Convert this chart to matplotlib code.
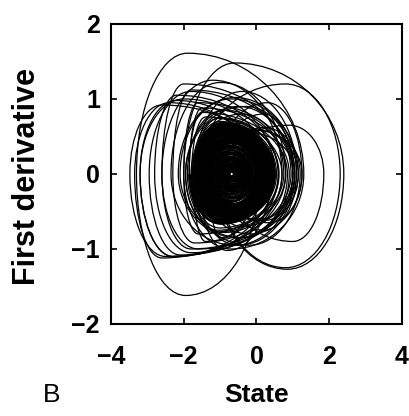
import matplotlib
matplotlib.use("Agg")
import matplotlib.pyplot as plt
from matplotlib.path import Path
from matplotlib.patches import PathPatch

plt.rcParams['font.family'] = ['Liberation Sans', 'DejaVu Sans']

# phase portrait, read loop by loop off the picture
# each loop: left turning point -> top -> right turning point -> bottom -> next left
left = [-1.45, -1.52, -1.60, -1.70, -1.85, -2.10, -2.60, -3.20, -3.30, -2.00,
        -1.10, -1.55, -1.62, -1.40, -1.35, -1.30, -1.38, -1.48, -1.58, -1.68,
        -1.80, -2.00, -2.35, -3.48, -1.75, -1.60, -1.50, -1.42, -1.36, -1.32,
        -1.40, -1.50, -1.58, -1.66, -1.78, -1.95, -1.70, -1.00, -0.90, -1.90,
        -1.72, -1.62, -1.52, -1.44, -1.36, -1.30, -1.34, -1.42, -1.53, -1.64,
        -1.76, -1.95, -2.30, -2.80, -3.20, -1.60, -1.05,
        -1.30, -1.20, -1.25,
        -1.60, -1.50, -1.42, -1.36, -1.42, -1.54, -1.68, -1.85, -2.15, -2.60,
        -2.95, -3.35,
        -1.30, -1.25, -1.20, -1.15, -1.11, -1.07, -1.03, -0.99, -0.95, -0.91,
        -0.86, -0.83, -0.78, -0.74,
        -0.84, -0.89, -0.94, -1.00, -1.06, -1.13, -1.21, -1.28,
        -1.36]
top_x = [-0.80, -0.85, -0.90, -1.00, -1.50, -0.60, -1.20, -2.20, -1.90, -0.60,
         0.30, -0.80, -0.90, -0.75, -0.70, -0.68, -0.72, -0.78, -0.88, -0.95,
         -0.40, -1.60, -1.00, -2.60, -1.00, -0.88, -0.82, -0.76, -0.70, -0.70,
         -0.74, -0.80, -0.86, -0.92, -1.40, -0.30, -0.40, 0.90, 0.20, -0.90,
         -1.00, -0.90, -0.82, -0.76, -0.72, -0.66, -0.70, -0.75, -0.83, -0.92,
         -1.05, -0.50, -1.80, -2.20, -2.00, 0.80, 0.20,
         -0.10, 0.00, -0.20,
         -0.85, -0.80, -0.75, -0.70, -0.74, -0.84, -0.95, -1.50, -0.70, -2.00,
         -1.80, -2.40,
         -0.70, -0.70, -0.70, -0.70, -0.70, -0.69, -0.69, -0.68, -0.68, -0.68,
         -0.68, -0.68, -0.68, -0.68,
         -0.68, -0.68, -0.68, -0.69, -0.70, -0.71, -0.72, -0.74]
top_y = [0.52, 0.58, 0.62, 0.75, 0.88, 1.02, 1.25, 0.98, 1.61, 1.48,
         0.95, 0.60, 0.55, 0.48, 0.45, 0.42, 0.47, 0.53, 0.60, 0.68,
         0.80, 0.95, 1.22, 0.92, 0.70, 0.58, 0.52, 0.48, 0.44, 0.42,
         0.46, 0.51, 0.56, 0.64, 0.76, 0.90, 1.10, 0.65, 0.62, 0.85,
         0.66, 0.60, 0.54, 0.49, 0.45, 0.41, 0.43, 0.48, 0.55, 0.63,
         0.74, 0.90, 1.12, 1.05, 1.00, 1.20, 0.80,
         0.60, 0.58, 0.55,
         0.58, 0.52, 0.47, 0.44, 0.48, 0.55, 0.66, 0.82, 1.00, 1.20,
         1.10, 0.95,
         0.38, 0.35, 0.32, 0.29, 0.26, 0.23, 0.20, 0.18, 0.15, 0.12,
         0.09, 0.07, 0.05, 0.03,
         0.10, 0.14, 0.18, 0.22, 0.27, 0.32, 0.37, 0.42]
right = [0.20, 0.28, 0.35, 0.60, 0.90, 1.10, 0.70, 0.10, 1.30, 2.40,
         1.25, 0.40, 0.25, 0.15, 0.05, 0.00, 0.12, 0.22, 0.32, 0.48,
         0.75, 1.00, 0.80, 0.30, 0.55, 0.30, 0.22, 0.15, 0.08, 0.04,
         0.14, 0.24, 0.34, 0.46, 0.70, 1.05, 1.10, 1.85, 1.20, 0.80,
         0.50, 0.36, 0.26, 0.18, 0.10, 0.02, 0.06, 0.17, 0.29, 0.42,
         0.62, 0.95, 1.05, 0.60, 0.40, 2.30, 1.00,
         1.15, 1.25, 1.05,
         0.32, 0.24, 0.16, 0.09, 0.18, 0.30, 0.50, 0.85, 1.15, 1.00,
         0.50, 0.00,
         -0.06, -0.11, -0.16, -0.21, -0.25, -0.29, -0.33, -0.37, -0.41, -0.45,
         -0.50, -0.53, -0.58, -0.62,
         -0.49, -0.45, -0.40, -0.34, -0.27, -0.20, -0.12, -0.03]
bot_x = [-0.75, -0.80, -0.95, -1.00, -0.40, -1.80, -2.30, -1.95, -0.70, 0.85,
         -0.20, -0.70, -0.80, -0.70, -0.65, -0.62, -0.72, -0.80, -0.88, -0.98,
         -1.60, -0.60, -2.50, -1.40, -0.95, -0.85, -0.78, -0.72, -0.66, -0.64,
         -0.70, -0.78, -0.84, -0.90, -0.90, -0.50, 0.20, 1.00, -0.20, -1.20,
         -0.95, -0.85, -0.80, -0.74, -0.68, -0.62, -0.66, -0.73, -0.82, -0.92,
         -1.05, -1.70, -1.80, -2.30, -0.80, 0.80, -0.40,
         0.20, 0.35, 0.10,
         -0.85, -0.78, -0.72, -0.67, -0.74, -0.84, -0.98, -0.50, -1.60, -2.10,
         -2.60, -1.00,
         -0.66, -0.66, -0.66, -0.66, -0.66, -0.66, -0.66, -0.66, -0.66, -0.67,
         -0.67, -0.67, -0.68, -0.68,
         -0.68, -0.68, -0.68, -0.68, -0.68, -0.69, -0.70, -0.71]
bot_y = [-0.50, -0.55, -0.60, -0.72, -0.85, -1.00, -1.10, -1.62, -1.00, -1.27,
         -0.80, -0.58, -0.52, -0.45, -0.42, -0.40, -0.46, -0.52, -0.58, -0.66,
         -0.80, -0.95, -1.10, -0.90, -0.65, -0.55, -0.50, -0.46, -0.43, -0.40,
         -0.45, -0.50, -0.56, -0.64, -0.78, -0.95, -0.75, -0.90, -0.95, -0.78,
         -0.62, -0.57, -0.52, -0.47, -0.44, -0.40, -0.42, -0.47, -0.54, -0.62,
         -0.75, -0.92, -1.05, -1.10, -1.02, -1.25, -0.70,
         -0.62, -0.65, -0.60,
         -0.55, -0.50, -0.46, -0.43, -0.47, -0.54, -0.66, -0.85, -1.00, -1.08,
         -1.12, -0.85,
         -0.36, -0.33, -0.30, -0.27, -0.24, -0.21, -0.19, -0.16, -0.13, -0.10,
         -0.08, -0.07, -0.05, -0.03,
         -0.10, -0.14, -0.18, -0.22, -0.27, -0.32, -0.37, -0.41]

K = 0.5523  # bezier handle for a quarter ellipse


def piece(p0, p1, from_x_turn):
    """Control points of one quarter-ellipse bezier between turning points."""
    x0, y0 = p0
    x1, y1 = p1
    if from_x_turn:
        c1 = (x0, y0 + K * (y1 - y0))
        c2 = (x1 + K * (x0 - x1), y1)
    else:
        c1 = (x0 + K * (x1 - x0), y0)
        c2 = (x1, y1 + K * (y0 - y1))
    return [c1, c2, p1]


def loop_path(i):
    pts = [(left[i], 0.0), (top_x[i], top_y[i]), (right[i], 0.0),
           (bot_x[i], bot_y[i]), (left[i + 1], 0.0)]
    verts = [pts[0]]
    for j in range(4):
        verts += piece(pts[j], pts[j + 1], j % 2 == 0)
    codes = [Path.MOVETO] + [Path.CURVE4] * 12
    return Path(verts, codes)


fig = plt.figure(figsize=(4.10, 4.16), dpi=100)
ax = fig.add_axes([0.2707, 0.2212, 0.7098, 0.7212])

for i in range(len(right)):
    core = top_y[i] < 0.7 and bot_y[i] > -0.7 and right[i] < 0.55
    ax.add_patch(PathPatch(loop_path(i), fill=False, ec='black',
                           lw=1.6 if core else 0.9))

ax.set_xlim(-4, 4)
ax.set_ylim(-2, 2)
ax.set_xticks([-4, -2, 0, 2, 4])
ax.set_yticks([-2, -1, 0, 1, 2])
ax.tick_params(direction='in', length=4, width=1.2, top=True, right=True,
               labelsize=18, pad=8)
ax.tick_params(axis='x', pad=15)
for lab in ax.get_xticklabels() + ax.get_yticklabels():
    lab.set_fontweight('bold')
for s in ax.spines.values():
    s.set_linewidth(1.5)

ax.set_xlabel('State', fontsize=19, fontweight='bold')
ax.xaxis.label.set_va('baseline')
ax.xaxis.set_label_coords(0.5, -0.26)
ax.set_ylabel('First derivative', fontsize=22, fontweight='bold')
ax.yaxis.label.set_va('center')
ax.yaxis.set_label_coords(-0.29, 0.49)

fig.text(0.105, 0.034, 'B', fontsize=19)

fig.savefig('out.png', dpi=100)
